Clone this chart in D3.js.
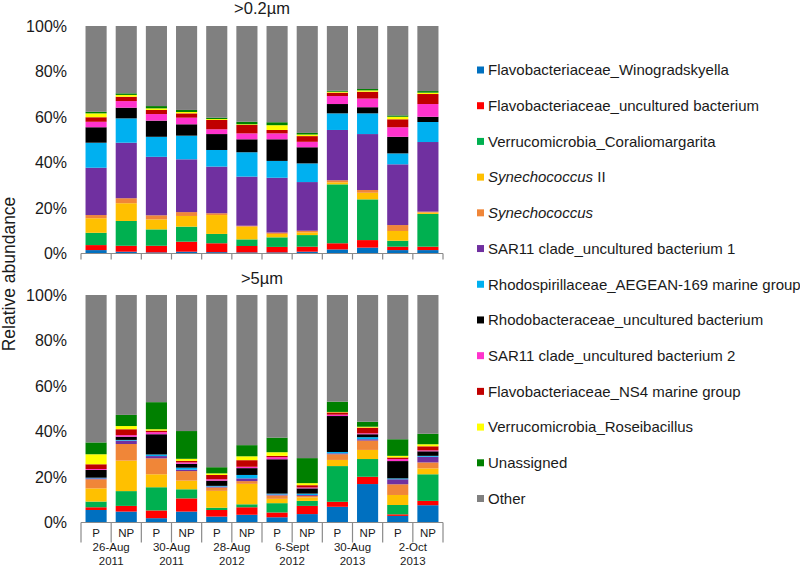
<!DOCTYPE html>
<html>
<head>
<meta charset="utf-8">
<script src="https://cdn.jsdelivr.net/npm/d3@7"></script>
<style>
  html, body { margin: 0; padding: 0; background: #fff; }
  svg { display: block; font-family: "Liberation Sans", Arial, sans-serif; }
</style>
</head>
<body>
<svg id="chart" width="800" height="568"></svg>
<script>
// ---------- DATA ----------
const samples = ["P","NP","P","NP","P","NP","P","NP","P","NP","P","NP"];
const dates = [["26-Aug","2011"],["30-Aug","2011"],["28-Aug","2012"],["6-Sept","2012"],["30-Aug","2013"],["2-Oct","2013"]];
const yTicks = [0, 20, 40, 60, 80, 100];
const panelTitles = [">0.2µm", ">5µm"];

// legend / stacking order (bottom -> top)
const taxa = [
  "Flavobacteriaceae_Winogradskyella",
  "Flavobacteriaceae_uncultured bacterium",
  "Verrucomicrobia_Coraliomargarita",
  "Synechococcus II",
  "Synechococcus",
  "SAR11 clade_uncultured bacterium 1",
  "Rhodospirillaceae_AEGEAN-169 marine group",
  "Rhodobacteraceae_uncultured bacterium",
  "SAR11 clade_uncultured bacterium 2",
  "Flavobacteriaceae_NS4 marine group",
  "Verrucomicrobia_Roseibacillus",
  "Unassigned",
  "Other"
];
const taxaColors = ["#0070C0","#FF0000","#00B050","#FFC000","#F08638","#7030A0","#00B0F0","#000000","#FF33CC","#C00000","#FFFF00","#008000","#808080"];

// >0.2µm panel, one row per taxon, 12 samples (%)
const topValues = [
  [1.5, 0.8, 0.5, 0.8, 0.6, 0.5, 0.5, 0.8, 1.8, 2.6, 1.5, 1.5],
  [2.2, 2.6, 2.9, 4.4, 3.9, 2.8, 2.4, 2.2, 2.7, 3.3, 1.5, 1.5],
  [5.4, 10.9, 7.2, 6.6, 4.1, 2.9, 4.2, 5.1, 25.9, 17.9, 2.6, 14.4],
  [6.4, 7.8, 4.4, 4.7, 8.3, 5.6, 1.5, 1.2, 0.9, 2.9, 4.3, 0.6],
  [1.4, 2.2, 1.8, 1.7, 0.8, 0.4, 0.6, 0.7, 0.9, 1.2, 2.6, 0.4],
  [20.8, 24.4, 25.7, 23.2, 20.5, 21.6, 24.1, 21.4, 22.1, 24.6, 26.7, 30.6],
  [11.0, 10.7, 8.8, 10.4, 7.3, 10.7, 7.4, 8.2, 7.3, 9.1, 4.8, 8.8],
  [6.8, 4.7, 7.1, 5.0, 7.0, 5.7, 9.5, 7.1, 4.1, 2.7, 7.3, 2.3],
  [2.4, 2.9, 2.9, 2.9, 2.1, 2.6, 2.6, 2.4, 3.5, 3.8, 4.2, 5.6],
  [2.0, 1.9, 1.8, 1.9, 4.1, 3.7, 1.5, 2.5, 1.5, 3.0, 3.5, 4.4],
  [1.7, 0.8, 0.7, 0.6, 0.4, 0.3, 2.1, 0.7, 0.4, 0.6, 1.1, 0.6],
  [0.7, 0.7, 1.0, 0.9, 0.6, 1.1, 1.3, 0.7, 0.4, 0.6, 0.6, 0.7],
  [37.7, 29.6, 35.2, 36.9, 40.3, 42.1, 42.3, 47.0, 28.5, 27.7, 39.3, 28.6]
];

// >5µm panel
const bottomValues = [
  [5.5, 4.8, 1.9, 4.8, 2.6, 3.4, 2.3, 3.7, 6.9, 16.9, 2.9, 7.6],
  [1.2, 2.5, 3.4, 5.8, 2.9, 3.3, 2.1, 3.6, 2.2, 3.2, 0.7, 1.9],
  [2.5, 6.5, 10.2, 4.0, 1.0, 1.3, 4.1, 2.2, 15.7, 7.8, 4.1, 11.7],
  [5.8, 13.4, 5.7, 3.8, 7.4, 9.0, 1.9, 1.5, 2.7, 4.0, 4.4, 2.6],
  [4.0, 7.3, 7.0, 4.2, 1.5, 1.2, 1.5, 0.7, 2.5, 4.1, 4.7, 2.6],
  [0.4, 1.5, 1.0, 0.6, 0.4, 1.2, 0.4, 0.4, 0.4, 0.6, 2.2, 2.5],
  [0.3, 0.3, 0.7, 0.9, 0.3, 1.5, 0.4, 0.6, 0.6, 0.9, 0.4, 0.4],
  [3.4, 1.4, 8.9, 1.7, 2.3, 3.0, 15.1, 2.3, 15.8, 1.3, 7.6, 2.0],
  [0.4, 0.7, 0.9, 0.6, 0.6, 0.6, 0.9, 0.4, 0.6, 0.4, 0.9, 0.4],
  [2.1, 2.6, 0.7, 0.7, 1.9, 2.9, 0.6, 1.0, 1.0, 2.5, 0.7, 1.8],
  [4.4, 1.4, 0.6, 0.9, 0.7, 1.7, 1.6, 0.9, 0.2, 0.4, 0.7, 0.9],
  [5.2, 4.9, 11.9, 12.2, 2.7, 4.9, 6.4, 11.0, 4.5, 2.2, 7.3, 4.6],
  [64.8, 52.7, 47.1, 59.8, 75.7, 66.0, 62.7, 71.7, 46.9, 55.7, 63.4, 61.0]
];

// ---------- CHART ----------
const svg = d3.select("#chart");
const axisColor = "#8a8a8a";
const textColor = "#1a1a1a";

const x = d3.scaleBand()
  .domain(d3.range(samples.length))
  .range([81, 443])
  .paddingInner(0.3)
  .paddingOuter(0.15);

const step = x.step();
const boundaries = d3.range(samples.length + 1).map(i => 81 + i * step);

const panels = [
  { values: topValues, y: d3.scaleLinear().domain([0, 100]).range([253.5, 26]), tick: 6, titleY: 8 },
  { values: bottomValues, y: d3.scaleLinear().domain([0, 100]).range([522.5, 295]), tick: 20, titleY: 278 }
];

panels.forEach((p, pi) => {
  const g = svg.append("g");
  const rows = samples.map((s, i) => {
    const r = { idx: i };
    taxa.forEach((t, k) => r[t] = p.values[k][i]);
    return r;
  });
  const stack = d3.stack().keys(taxa)(rows);
  g.selectAll("g.layer").data(stack).join("g")
    .attr("fill", (d, k) => taxaColors[k])
    .selectAll("rect").data(d => d).join("rect")
      .attr("x", d => x(d.data.idx))
      .attr("width", x.bandwidth())
      .attr("y", d => p.y(d[1]))
      .attr("height", d => Math.max(0, p.y(d[0]) - p.y(d[1])));

  const ya = g.append("g").attr("transform", "translate(81,0)")
    .call(d3.axisLeft(p.y).tickValues(yTicks).tickFormat(d => d + "%").tickSize(0).tickPadding(14));
  ya.select(".domain").remove();
  ya.selectAll("text").attr("font-size", 16).attr("fill", textColor)
    .attr("font-family", "Liberation Sans, Arial, sans-serif");

  const y0 = p.y(0);
  g.append("line").attr("x1", 81).attr("x2", 443).attr("y1", y0).attr("y2", y0)
    .attr("stroke", axisColor).attr("stroke-width", 1.2);
  g.selectAll("line.bt").data(boundaries).join("line")
    .attr("class", "bt")
    .attr("x1", d => d).attr("x2", d => d)
    .attr("y1", y0).attr("y2", y0 + p.tick)
    .attr("stroke", axisColor).attr("stroke-width", 1.2);

  g.append("text").attr("x", 262).attr("y", p.titleY).attr("dy", "0.35em")
    .attr("text-anchor", "middle").attr("font-size", 16.5).attr("fill", textColor)
    .text(panelTitles[pi]);
});

// bottom category labels
const yb = panels[1].y(0);
svg.append("g").selectAll("text").data(samples).join("text")
  .attr("x", (d, i) => x(i) + x.bandwidth() / 2)
  .attr("y", yb + 10.5).attr("dy", "0.35em")
  .attr("text-anchor", "middle").attr("font-size", 11.5).attr("fill", textColor)
  .text(d => d);

const dateX = (d, i) => (x(2 * i) + x(2 * i + 1) + x.bandwidth()) / 2;
const dateG = svg.append("g");
dateG.selectAll("text.d1").data(dates).join("text")
  .attr("class", "d1")
  .attr("text-anchor", "middle").attr("font-size", 11.5).attr("fill", textColor)
  .attr("x", dateX).attr("y", yb + 28.5).text(d => d[0]);
dateG.selectAll("text.d2").data(dates).join("text")
  .attr("class", "d2")
  .attr("text-anchor", "middle").attr("font-size", 11.5).attr("fill", textColor)
  .attr("x", dateX).attr("y", yb + 42).text(d => d[1]);

// y axis title
svg.append("text")
  .attr("transform", "translate(15,274) rotate(-90)")
  .attr("text-anchor", "middle").attr("font-size", 17.5).attr("fill", textColor)
  .text("Relative abundance");

// legend
const legend = svg.append("g");
const ly = d3.scalePoint().domain(taxa).range([70, 498.5]);
const items = legend.selectAll("g").data(taxa).join("g")
  .attr("transform", d => `translate(477,${ly(d)})`);
items.append("rect").attr("x", 0).attr("y", -3.5).attr("width", 7).attr("height", 7)
  .attr("fill", (d, k) => taxaColors[k]);
const lt = items.append("text").attr("x", 11).attr("y", 0).attr("dy", "0.35em")
  .attr("font-size", 15).attr("fill", textColor);
lt.each(function(d) {
  const t = d3.select(this);
  if (d === "Synechococcus II") {
    t.append("tspan").attr("font-style", "italic").text("Synechococcus");
    t.append("tspan").text(" II");
  } else if (d === "Synechococcus") {
    t.append("tspan").attr("font-style", "italic").text("Synechococcus");
  } else {
    t.text(d);
  }
});
</script>
</body>
</html>
